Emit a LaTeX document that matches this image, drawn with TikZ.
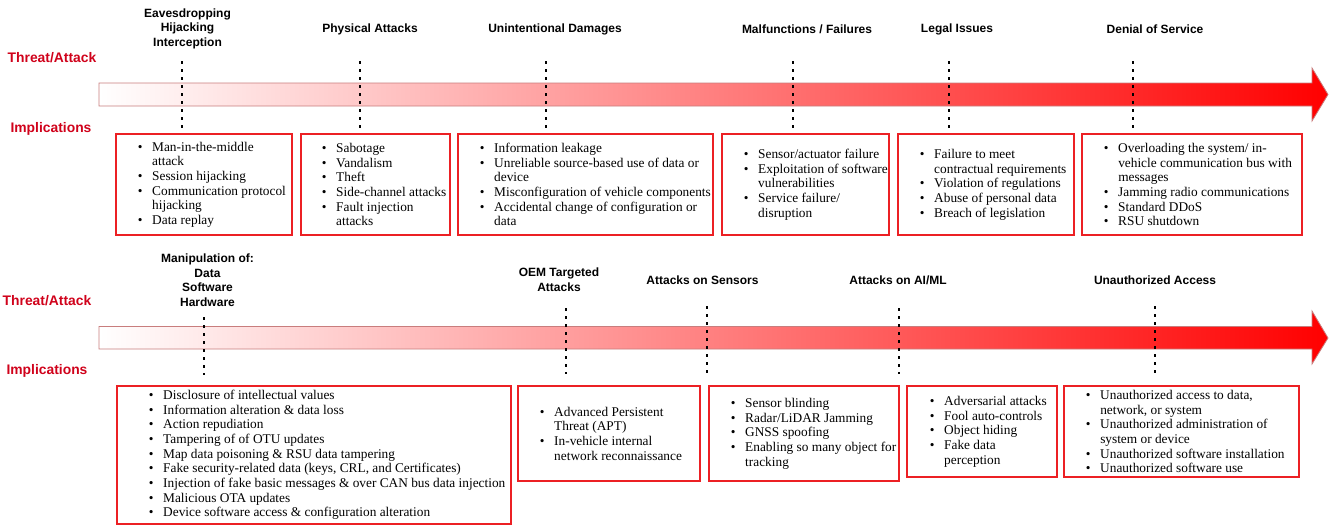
\documentclass[tikz,border=0pt]{standalone}
\usepackage{fontspec}
\setmainfont{Liberation Serif}
\newfontfamily\hfont{Liberation Sans}
\usetikzlibrary{fit}
\definecolor{thr}{RGB}{208,2,27}
\definecolor{boxred}{RGB}{236,32,36}
\definecolor{arrline}{RGB}{200,125,125}
\newcommand\itm[1]{\makebox[10.7pt][l]{\textbullet}#1}
\newcommand\cnt[1]{\hspace*{10.7pt}#1}
\begin{document}
\begin{tikzpicture}[x=0.75pt,y=-0.75pt,
  lbl/.style={font=\hfont\bfseries\fontsize{10.4}{12}\selectfont, text=thr, inner sep=0},
  hdr/.style={font=\hfont\bfseries\fontsize{9}{10.9}\selectfont, align=center, inner sep=0},
  ibox/.style={draw=boxred, line width=0.8pt, rectangle, inner sep=0},
  itxt/.style={font=\fontsize{10}{11}\selectfont, align=left, inner sep=0, anchor=west},
  dots/.style={line width=1.9pt, dash pattern=on 1.9pt off 4.1pt},
  band/.style={draw=arrline, line width=0.6pt, left color=white, right color=red}
]
\useasboundingbox (0,0) rectangle (1333,525);

% ---------------- top row ----------------
\node[lbl] (ta1) at (52,58) {Threat/Attack};
\node[lbl] (im1) at (51,129) {Implications};

\draw[band] (99,83) -- (1312,83) -- (1312,68) -- (1328,94.5) -- (1312,121) -- (1312,106) -- (99,106) -- cycle;

\node[hdr] (h1) at (187.5,28.5) {Eavesdropping\\Hijacking\\Interception};
\node[hdr] (h2) at (370,29) {Physical Attacks};
\node[hdr] (h3) at (555,29) {Unintentional Damages};
\node[hdr] (h4) at (807,29) {Malfunctions / Failures};
\node[hdr] (h5) at (957,29) {Legal Issues};
\node[hdr] (h6) at (1155,29) {Denial of Service};

\foreach \n/\x in {1/182,2/360,3/546,4/793,5/949,6/1133}{
  \coordinate (da\n) at (\x,61);
  \coordinate (db\n) at (\x,128);
  \draw[dots] (da\n) -- (db\n);
}

\node[ibox, fit={(116,134) (292,235)}] (b1) {};
\node[ibox, fit={(301,134) (450,235)}] (b2) {};
\node[ibox, fit={(458,134) (713,235)}] (b3) {};
\node[ibox, fit={(722,134) (889,235)}] (b4) {};
\node[ibox, fit={(898,134) (1074,235)}] (b5) {};
\node[ibox, fit={(1082,134) (1302,235)}] (b6) {};

\node[itxt] (t1) at (137.7,184.5) {\itm{Man-in-the-middle}\\\cnt{attack}\\\itm{Session hijacking}\\\itm{Communication protocol}\\\cnt{hijacking}\\\itm{Data replay}};
\node[itxt] (t2) at (321.7,184.5) {\itm{Sabotage}\\\itm{Vandalism}\\\itm{Theft}\\\itm{Side-channel attacks}\\\itm{Fault injection}\\\cnt{attacks}};
\node[itxt] (t3) at (479.7,184.5) {\itm{Information leakage}\\\itm{Unreliable source-based use of data or}\\\cnt{device}\\\itm{Misconfiguration of vehicle components}\\\itm{Accidental change of configuration or}\\\cnt{data}};
\node[itxt] (t4) at (743.7,184.5) {\itm{Sensor/actuator failure}\\\itm{Exploitation of software}\\\cnt{vulnerabilities}\\\itm{Service failure/}\\\cnt{disruption}};
\node[itxt] (t5) at (919.7,184.5) {\itm{Failure to meet}\\\cnt{contractual requirements}\\\itm{Violation of regulations}\\\itm{Abuse of personal data}\\\itm{Breach of legislation}};
\node[itxt] (t6) at (1103.7,184.5) {\itm{Overloading the system/ in-}\\\cnt{vehicle communication bus with}\\\cnt{messages}\\\itm{Jamming radio communications}\\\itm{Standard DDoS}\\\itm{RSU shutdown}};

% ---------------- bottom row ----------------
\node[lbl] (ta2) at (47,301) {Threat/Attack};
\node[lbl] (im2) at (47,371) {Implications};

\draw[band] (99,326.5) -- (1312,326.5) -- (1312,311) -- (1328,338) -- (1312,364) -- (1312,349) -- (99,349) -- cycle;

\node[hdr] (g1) at (207.5,280) {Manipulation of:\\Data\\Software\\Hardware};
\node[hdr] (g2) at (559,279.5) {OEM Targeted\\Attacks};
\node[hdr] (g3) at (702.5,280) {Attacks on Sensors};
\node[hdr] (g4) at (898,280) {Attacks on AI/ML};
\node[hdr] (g5) at (1155,280) {Unauthorized Access};

\foreach \n/\x/\ya/\yb in {1/204/317/375,2/566/308/374,3/707/306/373,4/899/308/374,5/1155/306/373}{
  \coordinate (ea\n) at (\x,\ya);
  \coordinate (eb\n) at (\x,\yb);
  \draw[dots] (ea\n) -- (eb\n);
}

\node[ibox, fit={(117,386) (511,524)}] (c1) {};
\node[ibox, fit={(518,386) (700,481)}] (c2) {};
\node[ibox, fit={(709,386) (899,481)}] (c3) {};
\node[ibox, fit={(907,386) (1057,477)}] (c4) {};
\node[ibox, fit={(1064,386) (1299,477)}] (c5) {};

\node[itxt] (u1) at (148.7,455) {\itm{Disclosure of intellectual values}\\\itm{Information alteration \& data loss}\\\itm{Action repudiation}\\\itm{Tampering of of OTU updates}\\\itm{Map data poisoning \& RSU data tampering}\\\itm{Fake security-related data (keys, CRL, and Certificates)}\\\itm{Injection of fake basic messages \& over CAN bus data injection}\\\itm{Malicious OTA updates}\\\itm{Device software access \& configuration alteration}};
\node[itxt] (u2) at (539.7,433.5) {\itm{Advanced Persistent}\\\cnt{Threat (APT)}\\\itm{In-vehicle internal}\\\cnt{network reconnaissance}};
\node[itxt] (u3) at (730.7,433.5) {\itm{Sensor blinding}\\\itm{Radar/LiDAR Jamming}\\\itm{GNSS spoofing}\\\itm{Enabling so many object for}\\\cnt{tracking}};
\node[itxt] (u4) at (929.7,431.5) {\itm{Adversarial attacks}\\\itm{Fool auto-controls}\\\itm{Object hiding}\\\itm{Fake data}\\\cnt{perception}};
\node[itxt] (u5) at (1085.7,431.5) {\itm{Unauthorized access to data,}\\\cnt{network, or system}\\\itm{Unauthorized administration of}\\\cnt{system or device}\\\itm{Unauthorized software installation}\\\itm{Unauthorized software use}};
\end{tikzpicture}
\end{document}
